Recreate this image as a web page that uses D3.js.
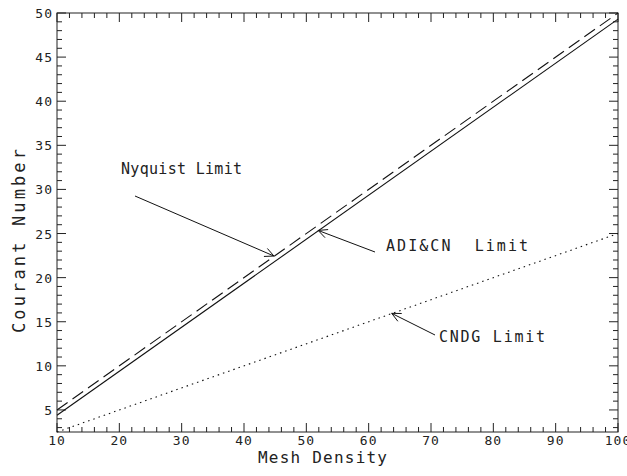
<!DOCTYPE html>
<html>
<head>
<meta charset="utf-8">
<script src="https://cdn.jsdelivr.net/npm/d3@7"></script>
<style>
  body { margin: 0; background: #fff; }
  text { font-family: "DejaVu Sans Mono", monospace; fill: #222; white-space: pre; }
</style>
</head>
<body>
<script>
// data
var meshDensity = [10, 100];
var nyquistLimit = [5.0, 50.0];   // dashed
var adiCnLimit = [4.4, 49.3];     // solid
var cndgLimit = [2.5, 25.0];      // dotted

var xTicks = [10, 20, 30, 40, 50, 60, 70, 80, 90, 100];
var yTicks = [5, 10, 15, 20, 25, 30, 35, 40, 45, 50];

// annotations: label, label position, arrow tail (px), arrow head (data)
var notes = [
  { text: "Nyquist Limit", tx: 121, ty: 174, x0: 135, y0: 196, hx: 44.8, hy: 22.45, len: 121 },
  { text: "ADI&CN  Limit", tx: 386, ty: 251, x0: 375, y0: 252, hx: 51.9, hy: 25.35, len: 142 },
  { text: "CNDG Limit", tx: 439, ty: 342, x0: 435, y0: 335, hx: 63.7, hy: 15.95, len: 106 }
];

var W = 627, H = 476;
var pLeft = 57, pRight = 618, pTop = 13, pBottom = 432;

var svg = d3.select("body").append("svg")
  .attr("width", W).attr("height", H);

var x = d3.scaleLinear().domain([10, 100]).range([pLeft, pRight]);
var y = d3.scaleLinear().domain([2.5, 50]).range([pBottom, pTop]);

/* frame */
svg.append("rect")
  .attr("x", pLeft).attr("y", pTop)
  .attr("width", pRight - pLeft).attr("height", pBottom - pTop)
  .attr("fill", "none").attr("stroke", "#222").attr("stroke-width", 1);

/* ticks, all pointing inwards, on all four sides */
var xMinor = d3.range(10, 100.1, 2);
var yMinor = d3.range(3, 50.1, 1);
var g = svg.append("g").attr("stroke", "#222").attr("stroke-width", 1);

xMinor.forEach(function (v) {
  var len = (v % 10 === 0) ? 9 : 5;
  g.append("line").attr("x1", x(v)).attr("x2", x(v)).attr("y1", pBottom).attr("y2", pBottom - len);
  g.append("line").attr("x1", x(v)).attr("x2", x(v)).attr("y1", pTop).attr("y2", pTop + len);
});
yMinor.forEach(function (v) {
  var len = (v % 5 === 0) ? 9 : 5;
  g.append("line").attr("y1", y(v)).attr("y2", y(v)).attr("x1", pLeft).attr("x2", pLeft + len);
  g.append("line").attr("y1", y(v)).attr("y2", y(v)).attr("x1", pRight).attr("x2", pRight - len);
});

/* tick labels */
svg.selectAll(".xl").data(xTicks).enter().append("text")
  .attr("x", function (d) { return x(d); })
  .attr("y", 445)
  .attr("text-anchor", "middle")
  .style("font-size", "13px")
  .style("letter-spacing", "1px")
  .text(function (d) { return d; });

svg.selectAll(".yl").data(yTicks).enter().append("text")
  .attr("x", 53)
  .attr("y", function (d) { return y(d) + 5; })
  .attr("text-anchor", "end")
  .style("font-size", "13px")
  .style("letter-spacing", "1px")
  .text(function (d) { return d; });

/* axis titles */
svg.append("text")
  .attr("x", 258).attr("y", 463)
  .attr("textLength", 129).attr("lengthAdjust", "spacing")
  .style("font-size", "16px")
  .text("Mesh Density");

svg.append("text")
  .attr("transform", "translate(25,333) rotate(-90)")
  .attr("textLength", 184).attr("lengthAdjust", "spacing")
  .style("font-size", "17px")
  .text("Courant Number");

/* lines */
function series(vals) {
  return meshDensity.map(function (d, i) { return [d, vals[i]]; });
}
var line = d3.line()
  .x(function (d) { return x(d[0]); })
  .y(function (d) { return y(d[1]); });

svg.append("path").datum(series(adiCnLimit))
  .attr("d", line).attr("fill", "none").attr("stroke", "#111").attr("stroke-width", 1.1);
svg.append("path").datum(series(nyquistLimit))
  .attr("d", line).attr("fill", "none").attr("stroke", "#111").attr("stroke-width", 1.1)
  .attr("stroke-dasharray", "13,6");
svg.append("path").datum(series(cndgLimit))
  .attr("d", line).attr("fill", "none").attr("stroke", "#111").attr("stroke-width", 1.1)
  .attr("stroke-dasharray", "1.5,4");

/* annotations with open arrow heads */
notes.forEach(function (n) {
  var hx = x(n.hx), hy = y(n.hy);
  svg.append("line")
    .attr("x1", n.x0).attr("y1", n.y0).attr("x2", hx).attr("y2", hy)
    .attr("stroke", "#111").attr("stroke-width", 1);
  var ang = Math.atan2(hy - n.y0, hx - n.x0);
  var a = 10, spread = 0.45;
  [ang + Math.PI - spread, ang + Math.PI + spread].forEach(function (t) {
    svg.append("line")
      .attr("x1", hx).attr("y1", hy)
      .attr("x2", hx + a * Math.cos(t)).attr("y2", hy + a * Math.sin(t))
      .attr("stroke", "#111").attr("stroke-width", 1);
  });
  svg.append("text")
    .attr("x", n.tx).attr("y", n.ty)
    .attr("textLength", n.len).attr("lengthAdjust", "spacing")
    .style("font-size", "15px")
    .text(n.text);
});
</script>
</body>
</html>
